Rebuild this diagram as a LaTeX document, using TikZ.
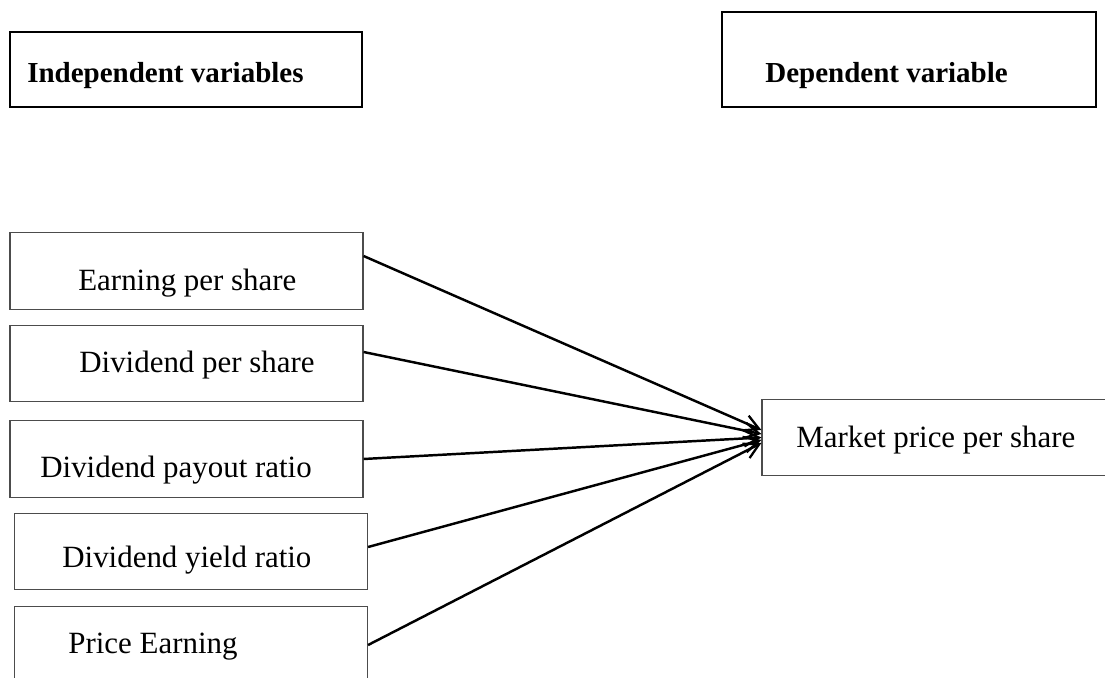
\documentclass[tikz,border=0pt]{standalone}
\usepackage{fontspec}
\setmainfont{Liberation Serif}
\usepackage{tikz}
\usetikzlibrary{arrows.meta}
\usetikzlibrary{positioning}

\begin{document}
\begin{tikzpicture}[x=0.02cm, y=-0.02cm,
    headbox/.style={draw, line width=1pt, minimum height=1.5cm, inner sep=0pt},
    varbox/.style={draw=black!70, line width=0.7pt, minimum width=7.06cm, minimum height=1.53cm, inner sep=0pt},
    headtxt/.style={anchor=base west, inner sep=0pt, font=\fontsize{16.5}{20}\selectfont\bfseries},
    vartxt/.style={anchor=base west, inner sep=0pt, font=\fontsize{17.6}{21}\selectfont},
    link/.style={line width=1.4pt, -{Straight Barb[length=3mm, width=3.2mm, line width=1.3pt]}}]
            \clip (0,0) rectangle (1105,678);

            % headings
            \draw (186,69.5) node[headbox, minimum width=7.04cm]                  (ind) {};
            \draw (909,59.5) node[headbox, minimum width=7.48cm, minimum height=1.9cm] (dep) {};
            \draw (27,83) node[headtxt]              (ind-t) {Independent variables};
            \draw (765,83) node[headtxt]             (dep-t) {Dependent variable};

            % independent variables
            \draw (186.5,271) node[varbox]           (eps) {};
            \draw (186.5,363.5) node[varbox]         (dps) {};
            \draw (186.5,459) node[varbox]           (dpr) {};
            \draw (191,551.5) node[varbox]           (dyr) {};
            \draw (191,645) node[varbox]             (pe) {};
            \draw (78,291) node[vartxt]              (eps-t) {Earning per share};
            \draw (79,373) node[vartxt]              (dps-t) {Dividend per share};
            \draw (40,478) node[vartxt]              (dpr-t) {Dividend payout ratio};
            \draw (62,567) node[vartxt]              (dyr-t) {Dividend yield ratio};
            \draw (68,653) node[vartxt]              (pe-t) {Price Earning};

            % dependent variable
            \draw (938.5,437.5) node[varbox]         (mps) {};
            \draw (796,448) node[vartxt]             (mps-t) {Market price per share};

            \draw[link] ([yshift=0.3cm]eps.east) -- ([yshift=0.15cm]mps.west);
            \draw[link] ([yshift=0.23cm]dps.east) -- ([yshift=0.07cm]mps.west);
            \draw[link] (dpr.east) -- (mps.west);
            \draw[link] ([yshift=0.09cm]dyr.east) -- ([yshift=-0.05cm]mps.west);
            \draw[link] (pe.east) -- ([yshift=-0.11cm]mps.west);

            \end{tikzpicture}
\end{document}
